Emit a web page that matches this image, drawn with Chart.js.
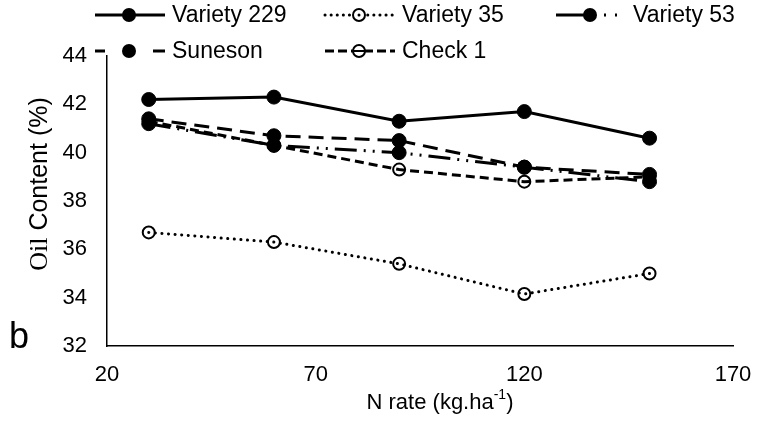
<!DOCTYPE html>
<html>
<head>
<meta charset="utf-8">
<script src="https://cdn.jsdelivr.net/npm/chart.js@4.4.1/dist/chart.umd.min.js"></script>
<style>
    html, body { margin: 0; padding: 0; background: #fff; }
    #wrap { width: 757px; height: 422px; }
</style>
</head>
<body>
<div id="wrap"><canvas id="oilChart" width="757" height="422"></canvas></div>
<script>
    "use strict";

    // N rate (kg/ha) on the x axis
    const nRates = [30, 60, 90, 120, 150];

    // oil content (%) per variety
    const variety229 = [42.2, 42.3, 41.3, 41.7, 40.6];
    const variety35 = [36.7, 36.3, 35.4, 34.15, 35.0];
    const variety53 = [41.2, 40.3, 40.0, 39.4, 38.8];
    const suneson = [41.4, 40.7, 40.5, 39.4, 39.1];
    const check1 = [41.3, 40.3, 39.3, 38.8, 39.0];

    const xTicks = [20, 70, 120, 170];
    const yTicks = [32, 34, 36, 38, 40, 42, 44];

    const SANS = "'Liberation Sans', Arial, sans-serif";
    const SERIF = "'Liberation Serif', 'Times New Roman', serif";

    const toPoints = (vals) => vals.map((v, i) => ({ x: nRates[i], y: v }));

    const filled = { pointRadius: 7, pointBackgroundColor: "#000", pointBorderColor: "#000", pointBorderWidth: 1 };
    const hollow = { pointRadius: 6, pointBackgroundColor: "rgba(0,0,0,0)", pointBorderColor: "#000", pointBorderWidth: 2 };

    // legendDash = how the short sample in the legend looks (Excel centres the pattern)
    const datasets = [
        Object.assign({ label: "Variety 229", data: toPoints(variety229), borderDash: [], borderCapStyle: "butt", legendDash: [] }, filled),
        Object.assign({ label: "Variety 35", data: toPoints(variety35), borderDash: [0.1, 6.5], borderCapStyle: "round", legendDash: [0.1, 6] }, hollow),
        Object.assign({ label: "Variety 53", data: toPoints(variety53), borderDash: [22, 7, 2, 7, 2, 7], borderCapStyle: "butt", legendDash: [37, 11, 2, 9, 2, 20] }, filled),
        Object.assign({ label: "Suneson", data: toPoints(suneson), borderDash: [15, 8], borderCapStyle: "butt", legendDash: [10, 48, 12] }, filled),
        Object.assign({ label: "Check 1", data: toPoints(check1), borderDash: [9, 5], borderCapStyle: "butt", legendDash: [9, 4] }, hollow),
    ].map((d) => Object.assign(d, { borderColor: "#000", borderWidth: 3, tension: 0, fill: false }));

    // legend slots: [x of sample start, y centre]
    const legendSlots = [[95, 15], [325, 15], [556, 15], [95, 51], [325, 51]];

    const extrasPlugin = {
        id: "extras",
        afterDraw(chart) {
            const ctx = chart.ctx;
            ctx.save();
            ctx.fillStyle = "#000";

            // legend
            chart.data.datasets.forEach((ds, i) => {
                const [sx, sy] = legendSlots[i];
                ctx.save();
                ctx.strokeStyle = "#000";
                ctx.lineWidth = ds.borderWidth;
                ctx.lineCap = ds.borderCapStyle;
                ctx.setLineDash(ds.legendDash);
                ctx.beginPath();
                ctx.moveTo(sx, sy);
                ctx.lineTo(sx + 70, sy);
                ctx.stroke();
                ctx.setLineDash([]);
                ctx.beginPath();
                ctx.arc(sx + 34, sy, ds.pointRadius, 0, Math.PI * 2);
                if (ds.pointBackgroundColor !== "rgba(0,0,0,0)") {
                    ctx.fillStyle = "#000";
                    ctx.fill();
                } else {
                    ctx.fillStyle = "#fff";
                    ctx.fill();
                    ctx.lineWidth = ds.pointBorderWidth;
                    ctx.stroke();
                    ctx.beginPath();
                    if (i === 4) {
                        ctx.moveTo(sx + 29, sy);
                        ctx.lineTo(sx + 39, sy);
                        ctx.stroke();
                    } else {
                        ctx.fillStyle = "#000";
                        ctx.arc(sx + 34, sy, 1.5, 0, Math.PI * 2);
                        ctx.fill();
                    }
                }
                ctx.restore();
                ctx.font = "23px " + SANS;
                ctx.textBaseline = "middle";
                ctx.textAlign = "left";
                ctx.fillText(ds.label, sx + 77, sy + 1);
            });

            // y axis title, "Oil" in serif like the original
            ctx.save();
            ctx.translate(40, 184);
            ctx.rotate(-Math.PI / 2);
            ctx.textBaseline = "middle";
            ctx.textAlign = "left";
            const p1 = "Oil", p2 = " Content (%)";
            ctx.font = "26px " + SERIF;
            const w1 = ctx.measureText(p1).width;
            ctx.font = "25px " + SANS;
            const w2 = ctx.measureText(p2).width;
            const tx = -(w1 + w2) / 2;
            ctx.font = "26px " + SERIF;
            ctx.fillText(p1, tx, 0);
            ctx.font = "25px " + SANS;
            ctx.fillText(p2, tx + w1, 0);
            ctx.restore();

            // x axis title with superscript
            const base = "N rate (kg.ha", sup = "-1", tail = ")";
            ctx.textBaseline = "alphabetic";
            ctx.textAlign = "left";
            ctx.font = "22px " + SANS;
            const bw = ctx.measureText(base).width;
            const tw = ctx.measureText(tail).width;
            ctx.font = "14px " + SANS;
            const sw = ctx.measureText(sup).width;
            const xx = 440 - (bw + sw + tw) / 2;
            ctx.font = "22px " + SANS;
            ctx.fillText(base, xx, 409);
            ctx.font = "14px " + SANS;
            ctx.fillText(sup, xx + bw, 399);
            ctx.font = "22px " + SANS;
            ctx.fillText(tail, xx + bw + sw, 409);

            // panel letter
            ctx.font = "36px " + SANS;
            ctx.fillText("b", 9, 348);
            ctx.restore();
        },
    };

    const ctx = document.getElementById("oilChart").getContext("2d");
    const oilChart = new Chart(ctx, {
        type: "line",
        data: { datasets: datasets },
        options: {
            responsive: false,
            animation: false,
            layout: { padding: { top: 56, right: 24, left: 0, bottom: 0 } },
            plugins: { legend: { display: false }, tooltip: { enabled: false } },
            scales: {
                x: {
                    type: "linear",
                    min: xTicks[0],
                    max: xTicks[xTicks.length - 1],
                    afterBuildTicks: (s) => { s.ticks = xTicks.map((v) => ({ value: v })); },
                    afterFit: (s) => { s.height = 76; s.paddingLeft = 0; s.paddingRight = 0; },
                    grid: { display: false, drawTicks: false },
                    border: { display: true, color: "#000", width: 1.5 },
                    ticks: { color: "#000", padding: 16, font: { size: 22, family: SANS }, maxRotation: 0 },
                },
                y: {
                    min: yTicks[0],
                    max: yTicks[yTicks.length - 1],
                    afterBuildTicks: (s) => { s.ticks = yTicks.map((v) => ({ value: v })); },
                    afterFit: (s) => { s.width = 107; },
                    grid: { display: false, drawTicks: false },
                    border: { display: true, color: "#000", width: 1.5 },
                    ticks: { color: "#000", padding: 20, font: { size: 22, family: SANS } },
                },
            },
        },
        plugins: [extrasPlugin],
    });
</script>
</body>
</html>
